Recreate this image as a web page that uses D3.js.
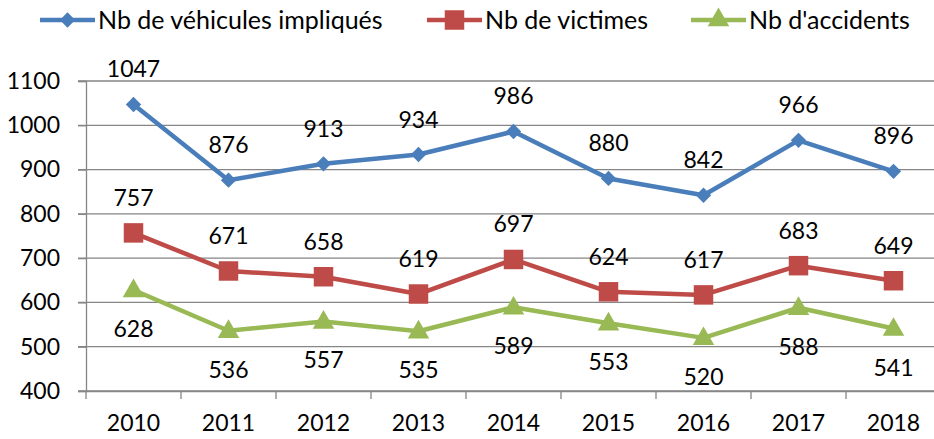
<!DOCTYPE html>
<html>
<head>
<meta charset="utf-8">
<script src="https://cdn.jsdelivr.net/npm/d3@7"></script>
<style>
  body { margin: 0; background: #fff; }
  svg text { font-family: Lato, "Open Sans", sans-serif; fill: #000; }
</style>
</head>
<body>
<svg id="chart" width="934" height="439"></svg>
<script>
// data
let years = ["2010", "2011", "2012", "2013", "2014", "2015", "2016", "2017", "2018"];
let vehicules = [1047, 876, 913, 934, 986, 880, 842, 966, 896];
let victimes = [757, 671, 658, 619, 697, 624, 617, 683, 649];
let accidents = [628, 536, 557, 535, 589, 553, 520, 588, 541];
let yTicks = [400, 500, 600, 700, 800, 900, 1000, 1100];

let series = [
	{ name: "Nb de véhicules impliqués", values: vehicules, color: "#4A7EBB", marker: "diamond", pos: "above" },
	{ name: "Nb de victimes", values: victimes, color: "#BE4B48", marker: "square", pos: "above" },
	{ name: "Nb d'accidents", values: accidents, color: "#98B954", marker: "triangle", pos: "below" }
];

let svg = d3.select("#chart");
let plotLeft = 86, plotRight = 941, plotTop = 81, plotBottom = 391;
let fontSize = 23;
let gridColor = "#868686";

let x = d3.scaleBand().domain(years).range([plotLeft, plotRight]);
let y = d3.scaleLinear().domain([400, 1100]).range([plotBottom, plotTop]);

// gridlines
svg.append("g")
	.selectAll("line")
	.data(yTicks)
	.join("line")
	.attr("x1", plotLeft - 8).attr("x2", plotRight)
	.attr("y1", d => y(d)).attr("y2", d => y(d))
	.attr("stroke", gridColor).attr("stroke-width", 1.3);

// y axis
let yAxis = svg.append("g")
	.attr("transform", `translate(${plotLeft},0)`)
	.call(d3.axisLeft(y).tickValues(yTicks).tickFormat(d3.format("d")).tickSize(8).tickPadding(18));
yAxis.select(".domain").attr("stroke", gridColor).attr("stroke-width", 1.3);
yAxis.selectAll(".tick line").attr("stroke", gridColor).attr("stroke-width", 1.3);
yAxis.selectAll("text").attr("font-size", fontSize).style("font-family", "Lato, 'Open Sans', sans-serif");

// x axis
let xAxis = svg.append("g")
	.attr("transform", `translate(0,${plotBottom})`)
	.call(d3.axisBottom(x).tickSize(0).tickPadding(24));
xAxis.select(".domain").attr("stroke", gridColor).attr("stroke-width", 1.3);
xAxis.selectAll("text").attr("font-size", fontSize).style("font-family", "Lato, 'Open Sans', sans-serif");
svg.append("g")
	.selectAll("line")
	.data(d3.range(years.length + 1))
	.join("line")
	.attr("x1", i => plotLeft + i * x.step()).attr("x2", i => plotLeft + i * x.step())
	.attr("y1", plotBottom).attr("y2", plotBottom + 8)
	.attr("stroke", gridColor).attr("stroke-width", 1.3);

let symbols = {
	diamond: d3.symbol().type(d3.symbolDiamond2).size(150),
	square: d3.symbol().type(d3.symbolSquare).size(380),
	triangle: d3.symbol().type(d3.symbolTriangle).size(200)
};

let cx = d => x(d) + x.bandwidth() / 2;
let line = d3.line().x(d => cx(d.year)).y(d => y(d.value));

series.forEach(s => {
	let pts = years.map((yr, i) => ({ year: yr, value: s.values[i] }));
	svg.append("path")
		.datum(pts)
		.attr("d", line)
		.attr("fill", "none")
		.attr("stroke", s.color)
		.attr("stroke-width", 4.5)
		.attr("stroke-linejoin", "round");
	svg.append("g")
		.selectAll("path")
		.data(pts)
		.join("path")
		.attr("d", symbols[s.marker])
		.attr("transform", d => `translate(${cx(d.year)},${y(d.value) + (s.marker == "triangle" ? 1 : 0)})`)
		.attr("fill", s.color);
	svg.append("g")
		.selectAll("text")
		.data(pts)
		.join("text")
		.attr("x", d => cx(d.year))
		.attr("y", d => y(d.value) + (s.pos == "above" ? -27 : 47))
		.attr("text-anchor", "middle")
		.attr("font-size", fontSize)
		.text(d => d.value);
});

// legend
let legendX = [40, 427, 691];
series.forEach((s, i) => {
	let g = svg.append("g").attr("transform", `translate(${legendX[i]},20)`);
	g.append("line")
		.attr("x1", 0).attr("x2", 55)
		.attr("stroke", s.color).attr("stroke-width", 4.5);
	g.append("path")
		.attr("d", symbols[s.marker])
		.attr("transform", "translate(27.5,0)")
		.attr("fill", s.color);
	g.append("text")
		.attr("x", 58).attr("y", 9)
		.attr("font-size", 25)
		.text(s.name);
});
</script>
</body>
</html>
